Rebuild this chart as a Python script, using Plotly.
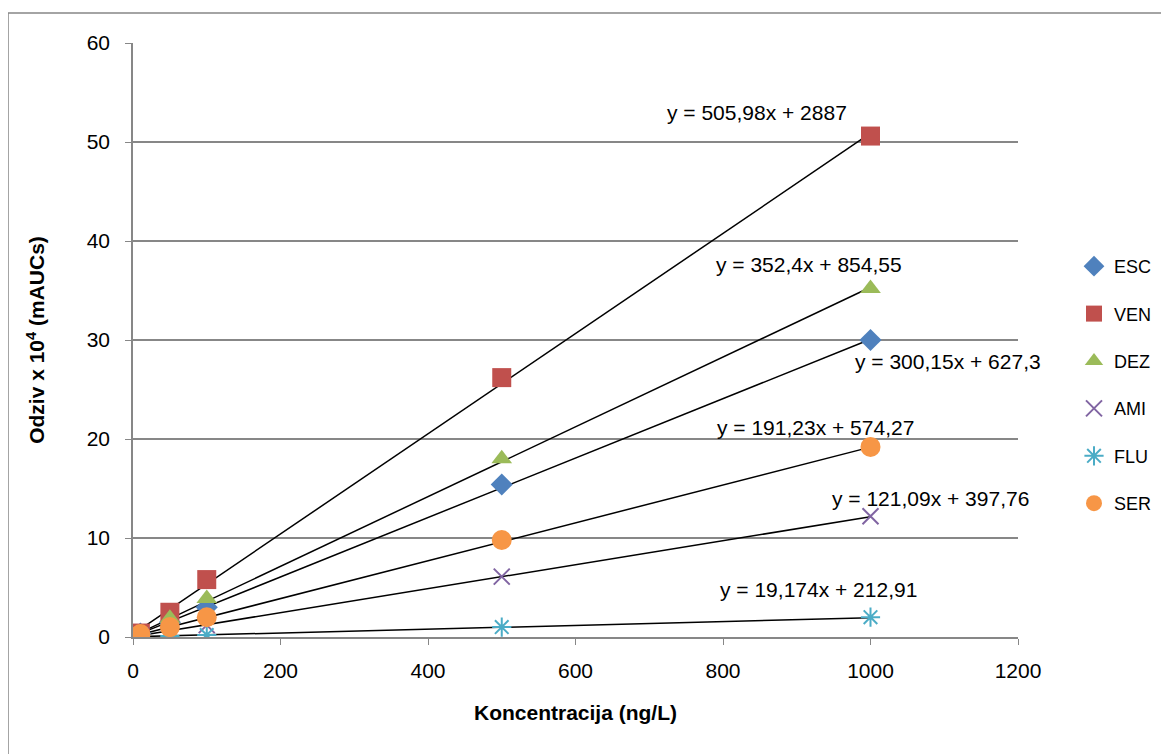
import plotly.graph_objects as go

# ---- data ----
conc = [10, 50, 100, 500, 1000]
series_names = ["ESC", "VEN", "DEZ", "AMI", "FLU", "SER"]
esc = [0.35, 1.5, 3.0, 15.4, 30.0]
ven = [0.4, 2.5, 5.8, 26.2, 50.6]
dez = [0.4, 1.9, 3.9, 18.0, 35.2]
ami = [0.15, 0.6, 1.2, 6.1, 12.2]
flu = [0.05, 0.1, 0.2, 1.0, 2.0]
ser = [0.3, 1.0, 2.0, 9.8, 19.2]
# trendline coefficients (raw response units; plotted as x 10^4)
slopes = [300.15, 505.98, 352.4, 121.09, 19.174, 191.23]
intercepts = [627.3, 2887, 854.55, 397.76, 212.91, 574.27]
eq_labels = ["y = 300,15x + 627,3", "y = 505,98x + 2887", "y = 352,4x + 854,55",
             "y = 121,09x + 397,76", "y = 19,174x + 212,91", "y = 191,23x + 574,27"]
eq_pos_x = [1105, 846, 917, 1082, 929, 925]
eq_pos_y = [27.8, 53.0, 37.6, 14.0, 4.75, 21.2]

values = [esc, ven, dez, ami, flu, ser]
colors = ["#4F81BD", "#C0504D", "#9BBB59", "#8064A2", "#4BACC6", "#F79646"]
symbols = ["diamond", "square", "triangle-up", "x-thin-open", "asterisk-open", "circle"]
sizes = [17, 19, 18, 16, 16, 20]

FONT = "Liberation Sans"
# page body has an 8px margin; compensate so the plot area lands at x 133-1018, y 43-637
OFF = 8
W, H = 1169 - OFF, 754 - OFF
L, T, R, B = 133 - OFF, 43 - OFF, 151, 117
PW, PH = 885, 594

fig = go.Figure()

# trendlines
for i in range(len(series_names)):
    xs = [min(conc), max(conc)]
    ys = [(slopes[i] * x + intercepts[i]) / 1e4 for x in xs]
    fig.add_trace(go.Scatter(x=xs, y=ys, mode="lines", line=dict(color="black", width=1.5),
                             showlegend=False, hoverinfo="skip"))

for i, name in enumerate(series_names):
    lw = 2 if symbols[i].endswith("open") else 0
    fig.add_trace(go.Scatter(
        x=conc, y=values[i], mode="markers", name=name, legendgroup=name,
        marker=dict(symbol=symbols[i], size=sizes[i], color=colors[i],
                    line=dict(color=colors[i], width=lw)),
    ))

for i in range(len(series_names)):
    fig.add_annotation(x=eq_pos_x[i], y=eq_pos_y[i], text=eq_labels[i], showarrow=False,
                       font=dict(family=FONT, size=21, color="black"))

# outer chart border (only left/top visible)
fig.add_shape(type="rect", xref="paper", yref="paper",
              x0=(8 - 133) / PW, x1=(1185 - 133) / PW,
              y0=(637 - 770) / PH, y1=(637 - 13) / PH,
              line=dict(color="#878787", width=1.5), fillcolor="rgba(0,0,0,0)", layer="below")

fig.update_layout(
    width=W, height=H,
    margin=dict(l=L, r=R, t=T, b=B),
    paper_bgcolor="white", plot_bgcolor="white",
    font=dict(family=FONT, size=21, color="black"),
    legend=dict(x=(1074 - 133) / PW, y=(637 - 248) / PH, xanchor="left", yanchor="top",
                font=dict(family=FONT, size=18), tracegroupgap=21,
                itemwidth=30, bgcolor="rgba(0,0,0,0)", borderwidth=0),
    xaxis=dict(range=[0, 1200], tickvals=[0, 200, 400, 600, 800, 1000, 1200],
               showgrid=False, zeroline=False, showline=True, linecolor="#878787", linewidth=1.5,
               ticks="outside", ticklen=6, tickcolor="#878787", ticklabelstandoff=8,
               title=dict(text="<b>Koncentracija (ng/L)</b>", font=dict(size=21), standoff=24),
               tickfont=dict(size=21)),
    yaxis=dict(range=[0, 60], tickvals=[0, 10, 20, 30, 40, 50, 60],
               showgrid=True, gridcolor="#878787", gridwidth=1.5, zeroline=False,
               showline=True, linecolor="#878787", linewidth=1.5,
               ticks="outside", ticklen=6, tickcolor="#878787", ticklabelstandoff=11,
               title=dict(text="<b>Odziv x 10<sup>4</sup> (mAUCs)</b>", font=dict(size=21), standoff=36),
               tickfont=dict(size=21)),
)

fig.write_html("out.html")
